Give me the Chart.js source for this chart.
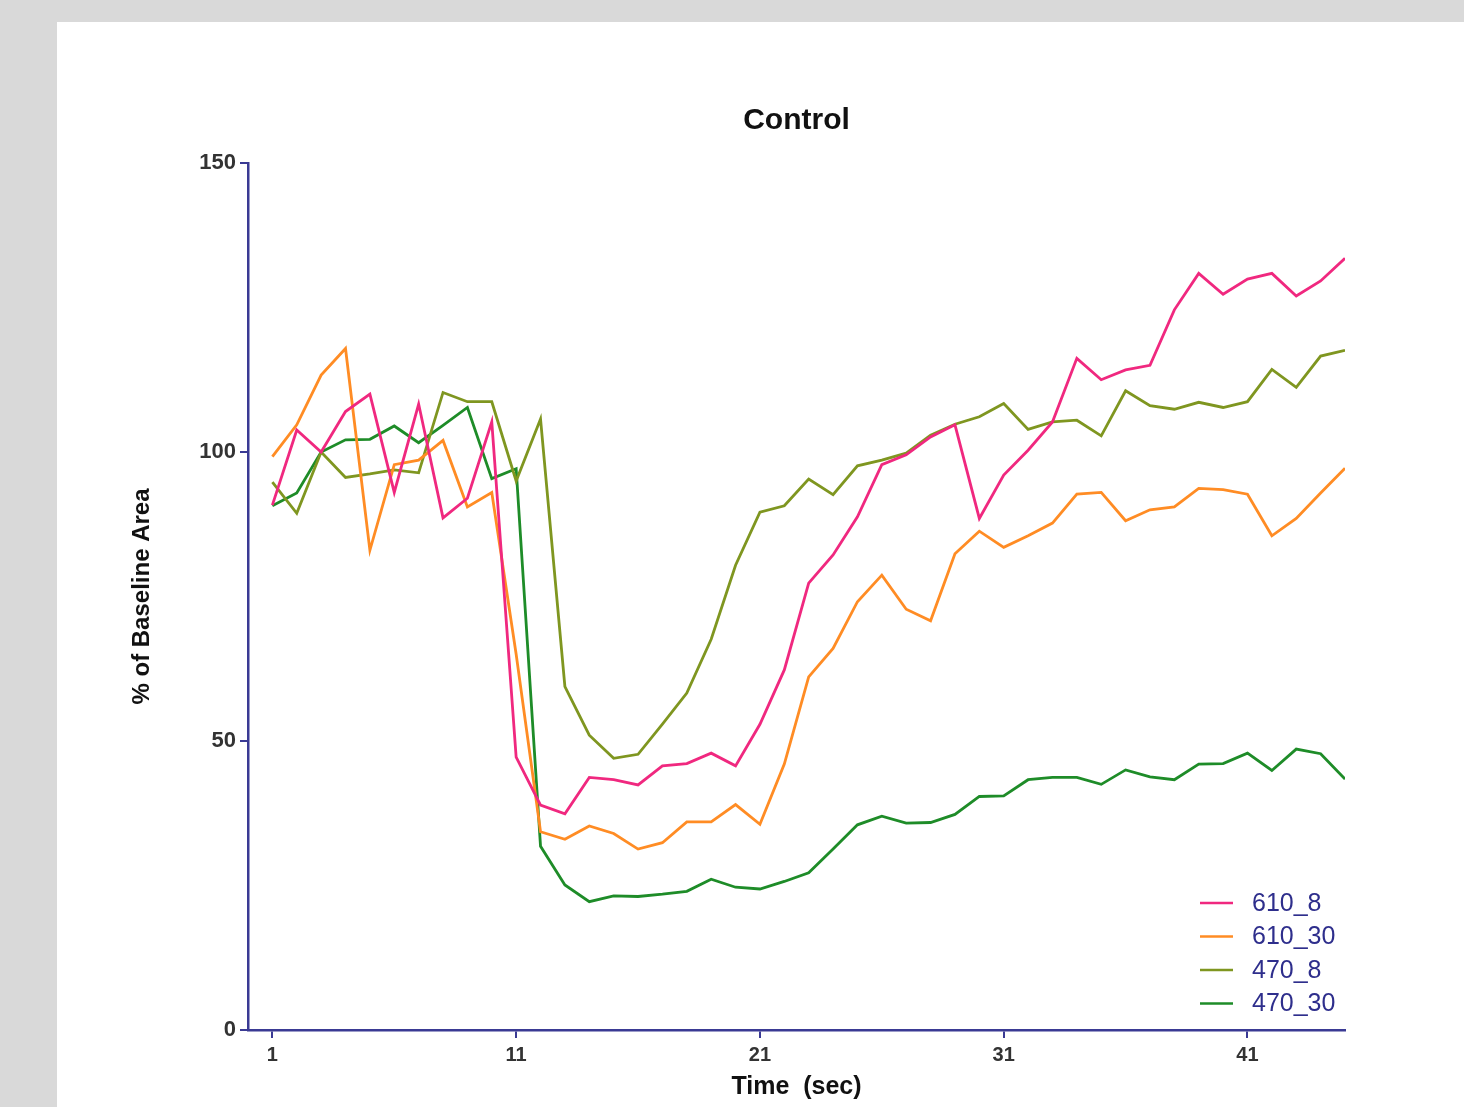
<!DOCTYPE html>
<html>
<head>
<meta charset="utf-8">
<script src="https://cdn.jsdelivr.net/npm/chart.js@4.4.0/dist/chart.umd.min.js"></script>
<style>
  html, body { margin: 0; padding: 0; background: #d9d9d9; }
  #panel { position: absolute; left: 57px; top: 22px; width: 1407px; height: 1085px; background: #fff; }
</style>
</head>
<body>
<div id="panel"><canvas id="chart" width="1407" height="1085"></canvas></div>
<script>
// time points (sec)
const times = [1, 2, 3, 4, 5, 6, 7, 8, 9, 10, 11, 12, 13, 14, 15, 16, 17, 18, 19, 20,
  21, 22, 23, 24, 25, 26, 27, 28, 29, 30, 31, 32, 33, 34, 35, 36, 37, 38, 39, 40,
  41, 42, 43, 44, 45];

// % of baseline area
const s610_8 = [90.8, 103.8, 100, 107, 110, 93, 108.3, 88.6, 92, 105.2,
  47.2, 38.9, 37.4, 43.7, 43.3, 42.4, 45.7, 46.1, 47.9, 45.7,
  52.9, 62.3, 77.3, 82.2, 88.8, 97.8, 99.5, 102.6, 104.7, 88.5,
  96, 100.3, 105.2, 116.2, 112.5, 114.2, 115, 124.6, 130.9, 127.3,
  129.9, 130.9, 127, 129.6, 133.5];
const s610_30 = [99.2, 104.7, 113.3, 117.9, 83, 97.8, 98.6, 102, 90.5, 93,
  65, 34.3, 33, 35.3, 34, 31.3, 32.4, 36, 36, 39,
  35.6, 46, 61.1, 66, 74.1, 78.7, 72.8, 70.8, 82.4, 86.3,
  83.5, 85.5, 87.7, 92.7, 93, 88.1, 90, 90.5, 93.7, 93.5,
  92.7, 85.5, 88.5, 92.9, 97.2];
const s470_8 = [94.8, 89.4, 100, 95.6, 96.2, 96.9, 96.4, 110.3, 108.7, 108.7,
  95, 105.7, 59.4, 51, 47, 47.7, 52.9, 58.3, 67.6, 80.4,
  89.6, 90.7, 95.3, 92.6, 97.6, 98.6, 99.8, 102.9, 104.8, 106.1,
  108.4, 103.9, 105.2, 105.5, 102.8, 110.6, 108, 107.4, 108.6, 107.7,
  108.7, 114.3, 111.2, 116.6, 117.6];
const s470_30 = [90.7, 92.9, 100, 102.1, 102.2, 104.5, 101.6, 104.6, 107.7, 95.4,
  97.1, 31.8, 25.1, 22.2, 23.2, 23.1, 23.5, 24, 26.1, 24.7,
  24.4, 25.7, 27.2, 31.3, 35.5, 37, 35.8, 35.9, 37.3, 40.4,
  40.5, 43.3, 43.7, 43.7, 42.5, 45, 43.8, 43.3, 46, 46.1,
  47.9, 44.9, 48.6, 47.8, 43.4];

const seriesLabels = ['610_8', '610_30', '470_8', '470_30'];
const seriesColors = ['#f0287f', '#ff8c24', '#7f9620', '#1e8c28'];
const xTickValues = [1, 11, 21, 31, 41];
const yTickValues = [0, 50, 100, 150];

const navy = '#3a3a94';
const fontFamily = '"Liberation Sans", Arial, sans-serif';

const toPoints = arr => arr.map((v, i) => ({ x: times[i], y: v }));

const titlePlugin = {
  id: 'plotTitle',
  afterDraw(chart) {
    const { ctx, chartArea } = chart;
    ctx.save();
    ctx.font = 'bold 30px ' + fontFamily;
    ctx.fillStyle = '#111';
    ctx.textAlign = 'center';
    ctx.textBaseline = 'middle';
    ctx.fillText('Control', (chartArea.left + chartArea.right) / 2, 99);
    ctx.restore();
  }
};

const legendPlugin = {
  id: 'insideLegend',
  afterDraw(chart) {
    const { ctx, chartArea } = chart;
    ctx.save();
    ctx.font = '25px ' + fontFamily;
    ctx.textBaseline = 'middle';
    ctx.textAlign = 'left';
    chart.data.datasets.forEach((ds, i) => {
      const y = chartArea.bottom - 127 + i * 33.5;
      ctx.strokeStyle = ds.borderColor;
      ctx.lineWidth = 2.5;
      ctx.beginPath();
      ctx.moveTo(chartArea.right - 145, y);
      ctx.lineTo(chartArea.right - 112, y);
      ctx.stroke();
      ctx.fillStyle = '#2e2e8c';
      ctx.fillText(ds.label, chartArea.right - 93, y + 1);
    });
    ctx.restore();
  }
};

const allSeries = [s610_8, s610_30, s470_8, s470_30];

new Chart(document.getElementById('chart'), {
  type: 'line',
  data: {
    datasets: allSeries.map((arr, i) => ({
      label: seriesLabels[i],
      data: toPoints(arr),
      borderColor: seriesColors[i],
      backgroundColor: seriesColors[i],
      borderWidth: 2.8,
      pointRadius: 0,
      tension: 0,
      fill: false
    }))
  },
  options: {
    responsive: false,
    animation: false,
    layout: { padding: { top: 141, right: 119, bottom: 0, left: 0 } },
    plugins: {
      legend: { display: false },
      title: { display: false },
      tooltip: { enabled: false }
    },
    scales: {
      x: {
        type: 'linear',
        min: 0,
        max: 45,
        afterBuildTicks: s => { s.ticks = xTickValues.map(v => ({ value: v })); },
        afterFit: s => { s.height = 77; },
        grid: { drawOnChartArea: false, drawTicks: true, tickLength: 8, color: navy, lineWidth: 2 },
        border: { color: navy, width: 2.5 },
        ticks: { autoSkip: false, maxRotation: 0, padding: 5, color: '#333',
                 font: { family: fontFamily, size: 20, weight: 'bold' } },
        title: { display: true, text: 'Time  (sec)', color: '#111',
                 font: { family: fontFamily, size: 25, weight: 'bold' },
                 padding: { top: 0, bottom: 5 } }
      },
      y: {
        min: 0,
        max: 150,
        afterBuildTicks: s => { s.ticks = yTickValues.map(v => ({ value: v })); },
        afterFit: s => { s.width = 191; },
        grid: { drawOnChartArea: false, drawTicks: true, tickLength: 8, color: navy, lineWidth: 2 },
        border: { color: navy, width: 2.5 },
        ticks: { padding: 4, color: '#333',
                 font: { family: fontFamily, size: 22, weight: 'bold' } },
        title: { display: true, text: '% of Baseline Area', color: '#111',
                 font: { family: fontFamily, size: 24, weight: 'bold' },
                 padding: { top: 71, bottom: 0 } }
      }
    }
  },
  plugins: [titlePlugin, legendPlugin]
});
</script>
</body>
</html>
